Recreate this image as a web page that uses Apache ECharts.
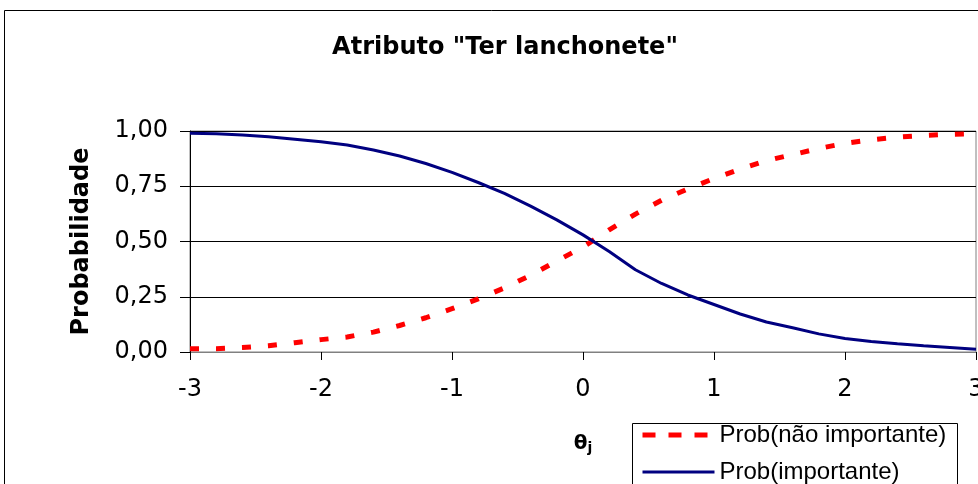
<!DOCTYPE html>
<html>
<head>
<meta charset="utf-8">
<script src="https://cdn.jsdelivr.net/npm/echarts@6/dist/echarts.min.js"></script>
<style>
html,body{margin:0;padding:0;background:#fff;}
#chart{width:978px;height:484px;}
</style>
</head>
<body>
<div id="chart"></div>
<script>
// Data
const thetaValues = [-3.0, -2.8, -2.6, -2.4, -2.2, -2.0, -1.8, -1.6, -1.4, -1.2, -1.0,
  -0.8, -0.6, -0.4, -0.2, 0.0, 0.2, 0.4, 0.6, 0.8, 1.0, 1.2, 1.4, 1.6, 1.8, 2.0,
  2.2, 2.4, 2.6, 2.8, 3.0];
const probNaoImportante = [0.015, 0.015, 0.020, 0.028, 0.042, 0.056, 0.068, 0.090, 0.120, 0.155, 0.196,
  0.240, 0.290, 0.347, 0.412, 0.475, 0.553, 0.624, 0.687, 0.738, 0.785, 0.828, 0.866, 0.893, 0.921, 0.944,
  0.960, 0.972, 0.980, 0.985, 0.988];
const probImportante = [0.990, 0.988, 0.982, 0.974, 0.963, 0.951, 0.937, 0.914, 0.887, 0.853, 0.813,
  0.767, 0.718, 0.660, 0.598, 0.530, 0.455, 0.372, 0.310, 0.258, 0.215, 0.172, 0.136, 0.110, 0.082, 0.061,
  0.048, 0.037, 0.028, 0.020, 0.012];
const seriesNames = ['Prob(não importante)', 'Prob(importante)'];
const chartTitle = 'Atributo "Ter lanchonete"';
const yAxisTitle = 'Probabilidade';

const chart = echarts.init(document.getElementById('chart'), null, {renderer: 'canvas'});
const pair = (xs, ys) => xs.map((x, i) => [x, ys[i]]);

chart.setOption({
  animation: false,
  backgroundColor: '#ffffff',
  textStyle: {fontFamily: 'Liberation Sans, Arial, sans-serif'},
  title: {
    text: chartTitle,
    left: 500, top: 31, textAlign: 'center',
    textStyle: {fontFamily: 'DejaVu Sans', fontWeight: 'bold', fontSize: 24, color: '#000'}
  },
  graphic: [
    {type: 'rect', left: 4, top: 10, shape: {width: 1000, height: 500}, z: -10, silent: true,
     style: {fill: '#fff', stroke: '#000', lineWidth: 1}},
    {type: 'rect', left: 632, top: 423, shape: {width: 325, height: 100}, z: 10, silent: true,
     style: {fill: '#fff', stroke: '#000', lineWidth: 1}}
  ],
  grid: {left: 190, top: 131, width: 786, height: 221, outerBoundsMode: 'none', containLabel: false,
    show: true, borderColor: '#808080', borderWidth: 1, backgroundColor: 'transparent'},
  legend: {
    orient: 'vertical', left: 640, top: 423, height: 120, padding: 0, itemGap: 13, z: 20,
    itemWidth: 72, itemHeight: 20,
    textStyle: {fontFamily: 'Liberation Sans', fontSize: 24, color: '#000', lineHeight: 20},
    data: [
      {name: seriesNames[0], itemStyle: {opacity: 0}, lineStyle: {type: [13, 13], width: 5, color: '#ff0000'}},
      {name: seriesNames[1], itemStyle: {opacity: 0}, lineStyle: {width: 3, color: '#000080'}}
    ]
  },
  xAxis: {
    type: 'value', min: -3, max: 3, interval: 1,
    name: '{t|θ}{s|j}', nameLocation: 'middle', nameGap: 81,
    nameTextStyle: {rich: {
      t: {fontFamily: 'DejaVu Sans', fontWeight: 'bold', fontSize: 20, color: '#000'},
      s: {fontFamily: 'DejaVu Sans', fontWeight: 'bold', fontSize: 14, color: '#000', padding: [8, 0, 0, 0]}
    }},
    axisLine: {onZero: false, lineStyle: {color: '#808080', width: 1}},
    axisTick: {show: true, inside: false, length: 8, lineStyle: {color: '#000'}},
    axisLabel: {margin: 26, fontFamily: 'DejaVu Sans', fontSize: 24, color: '#000'},
    splitLine: {show: false}
  },
  yAxis: {
    type: 'value', min: 0, max: 1, interval: 0.25,
    name: yAxisTitle, nameLocation: 'middle', nameGap: 96, nameRotate: 90,
    nameTextStyle: {fontFamily: 'DejaVu Sans', fontWeight: 'bold', fontSize: 24, color: '#000'},
    axisLine: {show: true, onZero: false, lineStyle: {color: '#000', width: 1}},
    axisTick: {show: true, inside: false, length: 10, lineStyle: {color: '#000'}},
    axisLabel: {margin: 22, fontFamily: 'DejaVu Sans', fontSize: 24, color: '#000',
      formatter: v => v.toFixed(2).replace('.', ',')},
    splitLine: {show: true, lineStyle: {color: '#000', width: 1}}
  },
  series: [
    {name: seriesNames[0], type: 'line', data: pair(thetaValues, probNaoImportante),
     showSymbol: false, symbol: 'none', smooth: false,
     lineStyle: {color: '#ff0000', width: 5, type: [9, 17], cap: 'butt'},
     itemStyle: {color: '#ff0000'}},
    {name: seriesNames[1], type: 'line', data: pair(thetaValues, probImportante),
     showSymbol: false, symbol: 'none', smooth: false,
     lineStyle: {color: '#000080', width: 3},
     itemStyle: {color: '#000080'}}
  ]
});
</script>
</body>
</html>
